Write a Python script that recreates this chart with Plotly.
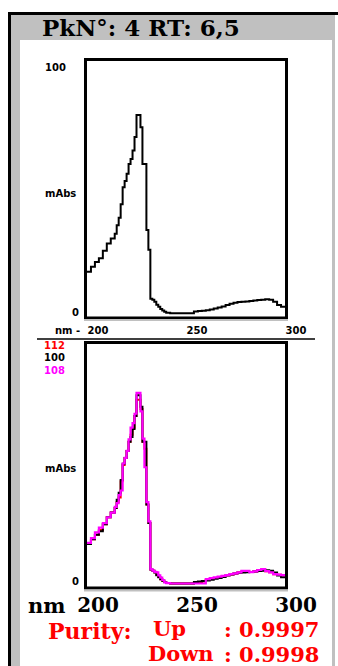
import plotly.graph_objects as go

# ---------------- data ----------------
wavelength_nm = [200, 202, 204, 206, 208, 210, 212, 214,
                 215, 216, 217, 218, 219, 220, 221, 222, 223, 224, 225, 226, 227, 228, 229, 230,
                 231, 232, 233, 234, 235, 236, 237, 238, 239, 240,
                 242, 244, 246, 248, 250, 252, 254, 256, 258, 260, 262, 264, 266, 268, 270,
                 272, 274, 276, 278, 280, 282, 284, 286, 288, 290, 292, 294, 296, 298, 300]

apex_abs = [17, 19, 21, 22.5, 25.5, 28.5, 30.5, 32.5,
            36, 39, 44.5, 51.5, 54, 57, 61, 63, 66.5, 72, 81, 81, 76, 61, 61, 34,
            26, 6, 5.5, 4.7, 3.5, 2.7, 1.8, 1.2, 0.6, 0.2,
            0, 0, 0, 0, 0, 0, 0.7, 0.9, 1.1, 1.3, 1.6, 2.0, 2.4, 2.8, 3.4,
            3.9, 4.3, 4.6, 4.7, 4.8, 5.0, 5.2, 5.4, 5.5, 5.7, 5.5, 4.7, 3.4, 2.7, 2.7]

up_abs = [17, 19, 21, 23, 25.5, 28.5, 30.5, 32.5,
          35, 37, 44, 51, 54, 57, 61, 64, 67, 72, 79, 79, 75, 61, 58, 34,
          26, 6, 5.5, 4.8, 3.8, 2.8, 1.8, 1.2, 0.6, 0.2,
          0, 0, 0, 0, 0, 0, 0.3, 0.6, 0.9, 1.6, 2.0, 2.4, 2.8, 3.1, 3.5,
          3.9, 4.3, 4.8, 5.2, 5.2, 4.9, 5.2, 5.8, 6.0, 5.3, 4.8, 4.0, 3.8, 3.6, 3.6]

down_abs = [17.5, 19.5, 22, 24, 26, 28.5, 30.5, 33,
            34.6, 38, 40, 51.6, 54, 57, 62, 67, 69, 73, 82, 82, 74, 62.3, 50, 35,
            26.7, 6.2, 5.5, 5, 4.8, 3.5, 2.5, 1.5, 0.5, 0.2,
            0, 0, 0, 0, 0, 0, 0, 0, 0, 1.9, 2.3, 2.6, 3.0, 3.3, 3.6,
            4.0, 4.4, 4.8, 5.4, 5.4, 4.9, 5.2, 5.8, 6.2, 5.3, 4.8, 4.0, 3.8, 3.6, 3.6]

x_ticks = [200, 250, 300]
x_ticktext = ["<b>200</b>", "<b>250</b>", "<b>300</b>"]
title_text = "PkN°: 4 RT: 6,5"
purity_up = "0.9997"
purity_down = "0.9998"
bottom_labels = ["112", "100", "108"]
bottom_label_colors = ["#ff0000", "#000000", "#ff00ff"]

# ---------------- layout helpers ----------------
W, H = 338, 666
def fx(px):
    return px / W
def fy(py):
    return 1 - py / H

SERIF = "DejaVu Serif"
SANS = "DejaVu Sans"
GRAY = "#c0c0c0"
RED = "#ff0000"

fig = go.Figure()

fig.add_trace(go.Scatter(x=wavelength_nm, y=apex_abs, mode="lines",
                         line=dict(color="black", width=2, shape="hv"),
                         xaxis="x", yaxis="y", showlegend=False, hoverinfo="skip"))
fig.add_trace(go.Scatter(x=wavelength_nm, y=up_abs, mode="lines",
                         line=dict(color=RED, width=2, shape="hv"),
                         xaxis="x2", yaxis="y2", showlegend=False, hoverinfo="skip"))
fig.add_trace(go.Scatter(x=wavelength_nm, y=apex_abs, mode="lines",
                         line=dict(color="black", width=2, shape="hv"),
                         xaxis="x2", yaxis="y2", showlegend=False, hoverinfo="skip"))
fig.add_trace(go.Scatter(x=wavelength_nm, y=down_abs, mode="lines",
                         line=dict(color="#ff00ff", width=2.2, shape="hv"),
                         xaxis="x2", yaxis="y2", showlegend=False, hoverinfo="skip"))

top_dom_y = [fy(317), fy(61)]
bot_dom_y = [fy(587), fy(344)]
dom_x = [fx(87), fx(285)]
yrange = [-1.5, 103]

common_x = dict(range=[200, 300], showgrid=False, zeroline=False, showline=False,
                ticks="", tickvals=x_ticks, ticktext=x_ticktext, automargin=False)
common_y = dict(range=yrange, showgrid=False, zeroline=False, showline=False,
                showticklabels=False, ticks="", automargin=False)

shapes = []
def rect(x0, y0, x1, y1, fill, layer="below", line=None):
    d = dict(type="rect", xref="paper", yref="paper",
             x0=fx(x0), x1=fx(x1), y0=fy(y1), y1=fy(y0),
             fillcolor=fill, layer=layer, line=dict(width=0))
    if line:
        d["fillcolor"] = "rgba(0,0,0,0)"
        d["line"] = line
    shapes.append(d)

# outer frame
rect(11, 15, 335, 666, GRAY)
rect(20, 40, 332, 666, "white")
rect(8, 12, 11, 666, "black")
rect(8, 12, 338, 15, "black")
# plot boxes
rect(85.5, 59.5, 286.5, 318, None, "above", dict(color="black", width=3))
shapes.append(dict(type="line", xref="paper", yref="paper", x0=fx(84), x1=fx(288),
                   y0=fy(320), y1=fy(320), line=dict(color=GRAY, width=2), layer="above"))
rect(85.5, 342.5, 286.5, 588, None, "above", dict(color="black", width=3))
shapes.append(dict(type="line", xref="paper", yref="paper", x0=fx(84), x1=fx(288),
                   y0=fy(590.5), y1=fy(590.5), line=dict(color=GRAY, width=2), layer="above"))
# separator line
shapes.append(dict(type="line", xref="paper", yref="paper", x0=fx(37), x1=fx(315),
                   y0=fy(339), y1=fy(339), line=dict(color="black", width=1.5), layer="above"))

ann = []
def text(x, y, s, size, color="black", family=SERIF, anchor="left", bold=True):
    ann.append(dict(xref="paper", yref="paper", x=fx(x), y=fy(y), text=(f"<b>{s}</b>" if bold else s),
                    showarrow=False, xanchor=anchor, yanchor="middle",
                    font=dict(family=family, size=size, color=color)))

text(40, 27, title_text, 23)
# top y labels
text(68, 67, "100", 10, family=SANS, anchor="right")
text(78, 193, "mAbs", 10, family=SANS, anchor="right")
text(81, 312, "0", 10, family=SANS, anchor="right")
text(82, 330, "nm -", 10, family=SANS, anchor="right")
# bottom y labels
for lbl, col, yy in zip(bottom_labels, bottom_label_colors, [345, 357, 370]):
    text(42, yy, lbl, 10, color=col, family=SANS)
text(78, 468, "mAbs", 10, family=SANS, anchor="right")
text(81, 581, "0", 10, family=SANS, anchor="right")
text(26, 605, "nm", 21)
# purity
text(46, 631, "Purity:", 22, RED)
text(151, 628, "Up", 21, RED)
text(321, 629, ": " + purity_up, 21, RED, anchor="right")
text(146, 653, "Down", 21, RED)
text(321, 654, ": " + purity_down, 21, RED, anchor="right")

fig.update_layout(
    width=W, height=H, autosize=False,
    margin=dict(l=0, r=0, t=0, b=0, pad=0, autoexpand=False),
    showlegend=False,
    paper_bgcolor="white", plot_bgcolor="white",
    xaxis=dict(domain=dom_x, anchor="y", ticklabelshift=11, ticklabelstandoff=6,
               tickfont=dict(family=SANS, size=10, color="black"), **common_x),
    yaxis=dict(domain=top_dom_y, anchor="x", **common_y),
    xaxis2=dict(domain=dom_x, anchor="y2", ticklabelshift=11, ticklabelstandoff=4,
                tickfont=dict(family=SERIF, size=20, color="black"), **common_x),
    yaxis2=dict(domain=bot_dom_y, anchor="x2", **common_y),
    shapes=shapes, annotations=ann,
)

fig.write_html("out.html")
